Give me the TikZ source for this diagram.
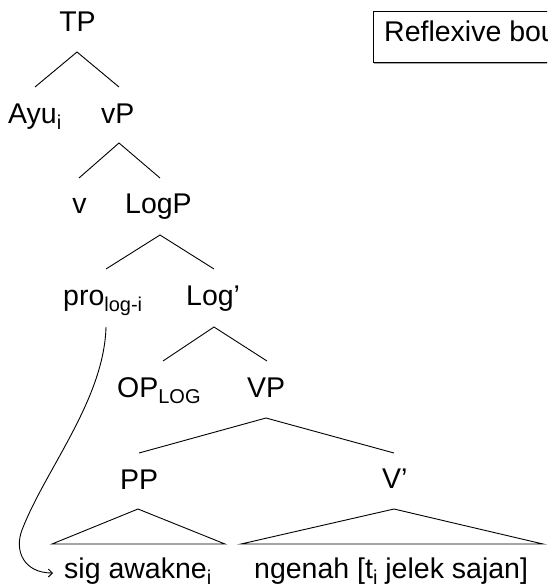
\documentclass[tikz,border=0pt]{standalone}
\usepackage{fontspec}
\setmainfont{Liberation Sans}
\usetikzlibrary{arrows.meta}
\newcommand\sbs[1]{\raisebox{-6pt}{\fontsize{20}{22}\selectfont #1}}
\begin{document}
\begin{tikzpicture}[x=1pt,y=-1pt,
  lbl/.style={inner sep=0pt, font=\fontsize{28.5}{34}\selectfont},
  branch/.style={line width=0.9pt, line join=miter},
  link/.style={line width=0.9pt, -{Straight Barb[length=4pt,width=8pt]}}]
\useasboundingbox (0,0) rectangle (547,586);
\clip (0,0) rectangle (547,586);
% title box (cut off by the picture's right edge)
\draw[gray!70, line width=1.6pt] (374,63) -- (560,63);
\draw[line width=0.9pt] (373,11) rectangle (560,62);
\node[lbl, anchor=base west] (refl) at (384,42) {Reflexive bou};
% labels
\node[lbl, anchor=base] (TP) at (77.5,32) {TP};
\node[lbl, anchor=base west] (Ayu) at (8,123) {Ayu\sbs{i}};
\node[lbl, anchor=base west] (vP) at (101,123) {vP};
\node[lbl, anchor=base] (v) at (79.5,213) {v};
\node[lbl, anchor=base west] (LogP) at (125,213) {LogP};
\node[lbl, anchor=base west] (pro) at (63,305) {pro\sbs{log-i}};
\node[lbl, anchor=base west] (Logbar) at (186,305) {Log’};
\node[lbl, anchor=base west] (OP) at (117,397) {OP\sbs{LOG}};
\node[lbl, anchor=base west] (VP) at (247,397) {VP};
\node[lbl, anchor=base west] (PP) at (120,489) {PP};
\node[lbl, anchor=base west] (Vbar) at (382,488) {V’};
\node[lbl, anchor=base west] (sig) at (64,578) {sig awakne\sbs{i}};
\node[lbl, anchor=base west] (ngenah) at (254,578) {ngenah [t\sbs{i} jelek sajan]};
% branch points
\coordinate (TPa) at (77,52);   \coordinate (TPl) at (35,87);   \coordinate (TPr) at (119,87);
\coordinate (vPa) at (119,143); \coordinate (vPl) at (79,178);  \coordinate (vPr) at (160,178);
\coordinate (LPa) at (160,235); \coordinate (LPl) at (106,269); \coordinate (LPr) at (214,269);
\coordinate (Lga) at (214,327); \coordinate (Lgl) at (163,361); \coordinate (Lgr) at (267,361);
\coordinate (VPa) at (266,418); \coordinate (VPl) at (139,453); \coordinate (VPr) at (394,453);
\coordinate (PPa) at (138,509); \coordinate (PPl) at (52,544);  \coordinate (PPr) at (225,544);
\coordinate (Vba) at (394,509); \coordinate (Vbl) at (241,544); \coordinate (Vbr) at (543,544);
\coordinate (proS) at (106,327); \coordinate (mid) at (22,530); \coordinate (sigW) at (53,573);
% branches
\draw[branch] (TPl) -- (TPa) -- (TPr);
\draw[branch] (vPl) -- (vPa) -- (vPr);
\draw[branch] (LPl) -- (LPa) -- (LPr);
\draw[branch] (Lgl) -- (Lga) -- (Lgr);
\draw[branch] (VPl) -- (VPa) -- (VPr);
\draw[branch] (PPl) -- (PPa) -- (PPr) -- cycle;
\draw[branch] (Vbl) -- (Vba) -- (Vbr) -- cycle;
% binding arrow
\draw[link] (proS) .. controls (104,400) and (45,470) .. (mid)
  .. controls (14,551) and (24,573) .. (sigW);
\end{tikzpicture}
\end{document}
